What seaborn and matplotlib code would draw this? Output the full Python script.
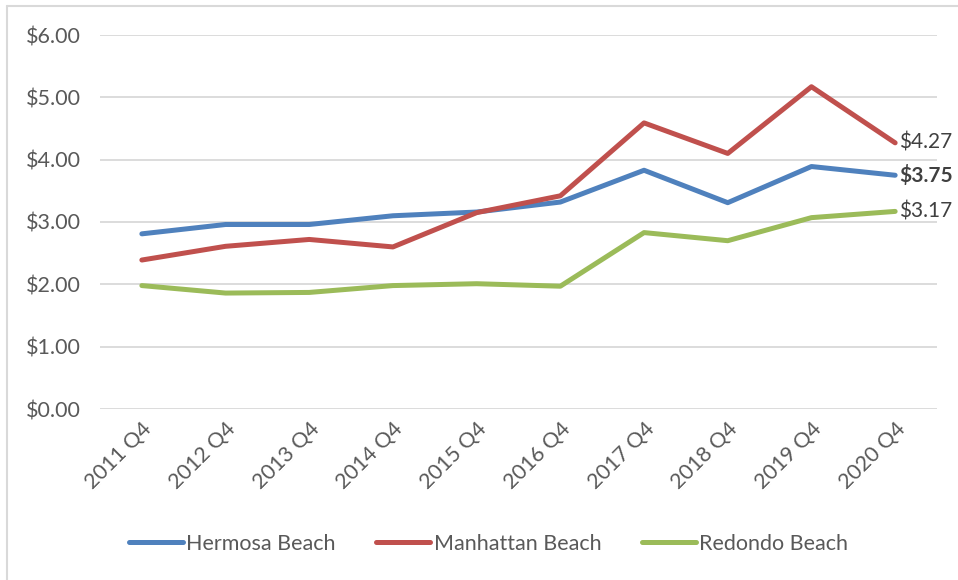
import matplotlib
matplotlib.use("Agg")
import matplotlib.pyplot as plt
import seaborn as sns
import pandas as pd
from matplotlib.lines import Line2D

quarters = ["2011 Q4", "2012 Q4", "2013 Q4", "2014 Q4", "2015 Q4",
            "2016 Q4", "2017 Q4", "2018 Q4", "2019 Q4", "2020 Q4"]
hermosa = [2.81, 2.96, 2.96, 3.10, 3.16, 3.32, 3.83, 3.31, 3.89, 3.75]
manhattan = [2.39, 2.61, 2.72, 2.60, 3.15, 3.42, 4.59, 4.10, 5.17, 4.27]
redondo = [1.98, 1.86, 1.87, 1.98, 2.01, 1.97, 2.83, 2.70, 3.07, 3.17]
series_names = ["Hermosa Beach", "Manhattan Beach", "Redondo Beach"]
colors = ["#4F81BD", "#C0504D", "#9BBB59"]
y_ticks = [0, 1, 2, 3, 4, 5, 6]

sns.set_theme(style="white")
plt.rcParams["font.family"] = ["Lato", "DejaVu Sans"]
text_color = "#595959"
fs = 15.5

rows = []
for name, vals in zip(series_names, [hermosa, manhattan, redondo]):
    for i, (q, v) in enumerate(zip(quarters, vals)):
        rows.append({"Quarter": q, "idx": i, "Value": v, "Area": name})
df = pd.DataFrame(rows)

fig = plt.figure(figsize=(9.58, 5.8), dpi=100)
ax = fig.add_axes([100/958, 1 - 409/580, (937-100)/958, (409-35)/580])

sns.lineplot(data=df, x="idx", y="Value", hue="Area", palette=colors,
             hue_order=series_names, linewidth=3.6, ax=ax, legend=False,
             solid_capstyle="round")

ax.set_xlim(-0.5, len(quarters) - 0.5)
ax.set_ylim(0, 6)
ax.set_yticks(y_ticks)
ax.set_yticklabels([f"${v:.2f}" for v in y_ticks], color=text_color, fontsize=fs)
ax.set_xticks(range(len(quarters)))
ax.set_xticklabels(quarters, rotation=45, ha="right", rotation_mode="anchor",
                   color=text_color, fontsize=fs)
ax.tick_params(axis="y", length=0, pad=14)
ax.tick_params(axis="x", length=0, pad=7)
ax.set_xlabel("")
ax.set_ylabel("")
ax.grid(axis="y", color="#D9D9D9", linewidth=1.3)
ax.set_axisbelow(True)
for s in ax.spines.values():
    s.set_visible(False)

# End labels
last = len(quarters) - 1
ends = [(manhattan[-1], "normal"), (hermosa[-1], "bold"), (redondo[-1], "normal")]
for val, weight in ends:
    ax.annotate(f"${val:.2f}", xy=(last, val), xytext=(3, 0),
                textcoords="offset points", va="center", ha="left",
                fontsize=15, color="#404040", fontweight=weight,
                annotation_clip=False)

# Legend
handles = [Line2D([0], [0], color=c, linewidth=3.6, solid_capstyle="round") for c in colors]
fig.legend(handles, series_names, loc="center", bbox_to_anchor=(0.51, 1 - 544/580),
           ncol=3, frameon=False, fontsize=fs, handlelength=2.5,
           handletextpad=0.15, columnspacing=1.9, labelcolor=text_color)

# Chart border (left and top edges visible in the reference)
fig.add_artist(Line2D([7/958, 7/958], [0, 1 - 6/580], transform=fig.transFigure,
                      color="#D9D9D9", linewidth=1.5))
fig.add_artist(Line2D([7/958, 1], [1 - 6/580, 1 - 6/580], transform=fig.transFigure,
                      color="#D9D9D9", linewidth=1.5))

fig.savefig("out.png", dpi=100)
